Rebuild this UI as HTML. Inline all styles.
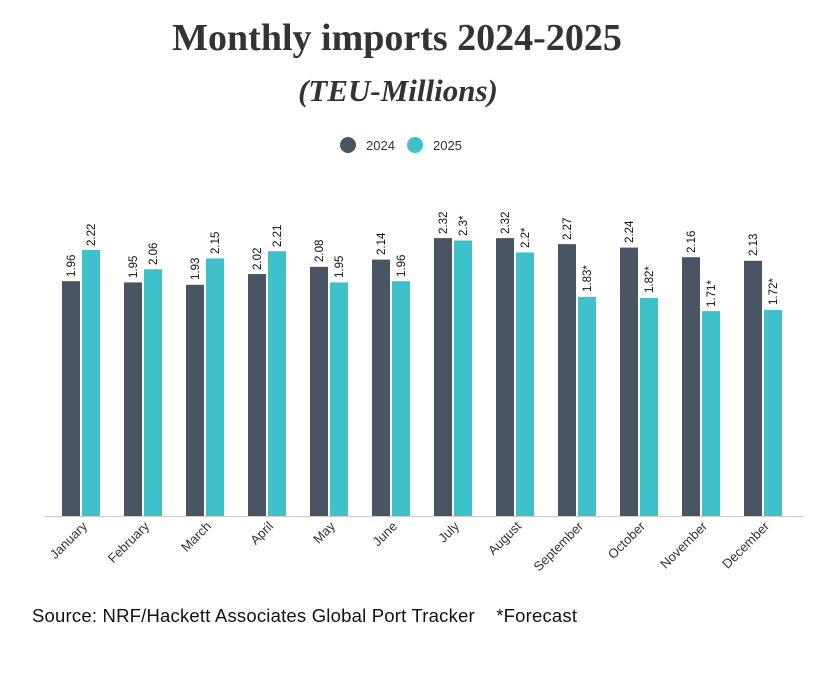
<!DOCTYPE html>
<html><head><meta charset="utf-8"><style>
html,body{margin:0;padding:0;background:#fff;}
svg{display:block;}
.v{font-family:"Liberation Sans",sans-serif;font-size:11.5px;fill:#111;}
.m{font-family:"Liberation Sans",sans-serif;font-size:13px;fill:#333;}
</style></head><body>
<svg width="815" height="694" viewBox="0 0 815 694" xmlns="http://www.w3.org/2000/svg">
<text x="397" y="50" text-anchor="middle" font-family="Liberation Serif,serif" font-weight="bold" font-size="38" fill="#333">Monthly imports 2024-2025</text>
<text x="398" y="101" text-anchor="middle" font-family="Liberation Serif,serif" font-weight="bold" font-style="italic" font-size="31" fill="#333">(TEU-Millions)</text>
<circle cx="348" cy="145" r="8" fill="#4a5563"/>
<text x="366" y="150" font-family="Liberation Sans,sans-serif" font-size="13" fill="#333">2024</text>
<circle cx="415" cy="145" r="8" fill="#3fc1c9"/>
<text x="433" y="150" font-family="Liberation Sans,sans-serif" font-size="13" fill="#333">2025</text>
<line x1="45" y1="516.5" x2="803" y2="516.5" stroke="#ccc" stroke-width="1"/>
<g fill="#4a5563">
<rect x="62" y="281.2" width="18" height="234.8"/>
<rect x="124" y="282.4" width="18" height="233.6"/>
<rect x="186" y="284.8" width="18" height="231.2"/>
<rect x="248" y="274.0" width="18" height="242"/>
<rect x="310" y="266.8" width="18" height="249.2"/>
<rect x="372" y="259.6" width="18" height="256.4"/>
<rect x="434" y="238.1" width="18" height="277.9"/>
<rect x="496" y="238.1" width="18" height="277.9"/>
<rect x="558" y="244.1" width="18" height="271.9"/>
<rect x="620" y="247.6" width="18" height="268.4"/>
<rect x="682" y="257.2" width="18" height="258.8"/>
<rect x="744" y="260.8" width="18" height="255.2"/>
</g>
<g fill="#3fc1c9">
<rect x="82" y="250.0" width="18" height="266"/>
<rect x="144" y="269.2" width="18" height="246.8"/>
<rect x="206" y="258.4" width="18" height="257.6"/>
<rect x="268" y="251.2" width="18" height="264.8"/>
<rect x="330" y="282.4" width="18" height="233.6"/>
<rect x="392" y="281.2" width="18" height="234.8"/>
<rect x="454" y="240.5" width="18" height="275.5"/>
<rect x="516" y="252.4" width="18" height="263.6"/>
<rect x="578" y="296.8" width="18" height="219.2"/>
<rect x="640" y="298.0" width="18" height="218"/>
<rect x="702" y="311.1" width="18" height="204.9"/>
<rect x="764" y="309.9" width="18" height="206.1"/>
</g>
<g class="v">
<text transform="translate(75,277) rotate(-90)">1.96</text>
<text transform="translate(95,246) rotate(-90)">2.22</text>
<text transform="translate(137,278) rotate(-90)">1.95</text>
<text transform="translate(157,265) rotate(-90)">2.06</text>
<text transform="translate(199,280) rotate(-90)">1.93</text>
<text transform="translate(219,254) rotate(-90)">2.15</text>
<text transform="translate(261,270) rotate(-90)">2.02</text>
<text transform="translate(281,247) rotate(-90)">2.21</text>
<text transform="translate(323,262) rotate(-90)">2.08</text>
<text transform="translate(343,278) rotate(-90)">1.95</text>
<text transform="translate(385,255) rotate(-90)">2.14</text>
<text transform="translate(405,277) rotate(-90)">1.96</text>
<text transform="translate(447,234) rotate(-90)">2.32</text>
<text transform="translate(467,236) rotate(-90)">2.3*</text>
<text transform="translate(509,234) rotate(-90)">2.32</text>
<text transform="translate(529,248) rotate(-90)">2.2*</text>
<text transform="translate(571,240) rotate(-90)">2.27</text>
<text transform="translate(591,292) rotate(-90)">1.83*</text>
<text transform="translate(633,243) rotate(-90)">2.24</text>
<text transform="translate(653,293) rotate(-90)">1.82*</text>
<text transform="translate(695,253) rotate(-90)">2.16</text>
<text transform="translate(715,307) rotate(-90)">1.71*</text>
<text transform="translate(757,256) rotate(-90)">2.13</text>
<text transform="translate(777,305) rotate(-90)">1.72*</text>
</g>
<g class="m" text-anchor="end">
<text transform="translate(88,527) rotate(-45)">January</text>
<text transform="translate(150,527) rotate(-45)">February</text>
<text transform="translate(212,527) rotate(-45)">March</text>
<text transform="translate(274,527) rotate(-45)">April</text>
<text transform="translate(336,527) rotate(-45)">May</text>
<text transform="translate(398,527) rotate(-45)">June</text>
<text transform="translate(460,527) rotate(-45)">July</text>
<text transform="translate(522,527) rotate(-45)">August</text>
<text transform="translate(584,527) rotate(-45)">September</text>
<text transform="translate(646,527) rotate(-45)">October</text>
<text transform="translate(708,527) rotate(-45)">November</text>
<text transform="translate(770,527) rotate(-45)">December</text>
</g>
<text x="32" y="622" font-family="Liberation Sans,sans-serif" font-size="18.5" fill="#111" textLength="545" lengthAdjust="spacing">Source: NRF/Hackett Associates Global Port Tracker&#160;&#160;&#160;&#160;*Forecast</text>
</svg>
</body></html>
